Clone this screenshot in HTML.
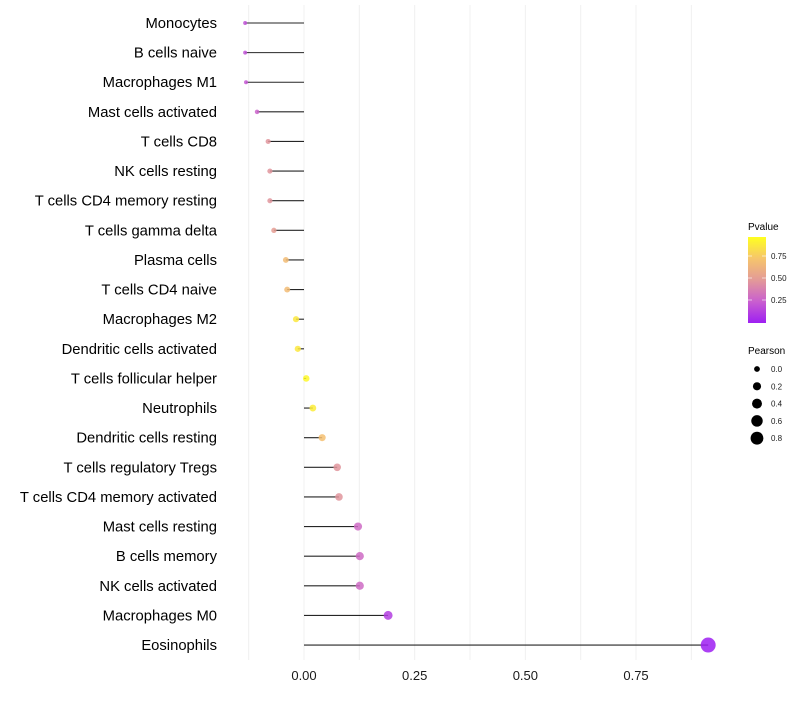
<!DOCTYPE html>
<html><head><meta charset="utf-8"><style>
body{margin:0;background:#fff;font-family:"Liberation Sans",sans-serif}
</style></head><body>
<svg id="chart" width="800" height="700" xmlns="http://www.w3.org/2000/svg" font-family="Liberation Sans, sans-serif">
<defs><linearGradient id="pg" x1="0" y1="1" x2="0" y2="0">
<stop offset="0" stop-color="#9e1ff2"/><stop offset="0.25" stop-color="#c95fcf"/><stop offset="0.5" stop-color="#e39a98"/><stop offset="0.75" stop-color="#f6c56c"/><stop offset="1" stop-color="#ffff20"/></linearGradient></defs>
<g id="grid"></g>
<g id="marks"></g>
<g id="ylabels"></g>
<g id="xlabels"></g>
<g>
<text x="748" y="230" font-size="10">Pvalue</text>
<rect x="748" y="237" width="18" height="86" fill="url(#pg)"/>
<g id="cbticks"></g>
</g>
<g id="sizeleg">
<text x="748" y="354" font-size="10">Pearson</text>
</g>
</svg>
<script>
const categories=["Monocytes","B cells naive","Macrophages M1","Mast cells activated","T cells CD8","NK cells resting","T cells CD4 memory resting","T cells gamma delta","Plasma cells","T cells CD4 naive","Macrophages M2","Dendritic cells activated","T cells follicular helper","Neutrophils","Dendritic cells resting","T cells regulatory  Tregs ","T cells CD4 memory activated","Mast cells resting","B cells memory","NK cells activated","Macrophages M0","Eosinophils"];
const pearson=[-0.133,-0.133,-0.131,-0.106,-0.081,-0.077,-0.077,-0.068,-0.041,-0.038,-0.018,-0.014,0.005,0.02,0.041,0.075,0.079,0.122,0.126,0.126,0.19,0.913];
const pvalue=[0.2,0.2,0.22,0.27,0.48,0.48,0.48,0.52,0.7,0.7,0.9,0.9,0.97,0.92,0.72,0.48,0.48,0.3,0.3,0.3,0.12,0.0];
const xTicks=[0,0.25,0.5,0.75];
const xTickLabels=["0.00","0.25","0.50","0.75"];
const sizeLegendValues=[0.0,0.2,0.4,0.6,0.8];
const cbTickValues=[0.25,0.5,0.75];
const NS="http://www.w3.org/2000/svg";
const X=v=>304+v*442.7;
const Y=i=>23+i*29.62;
const R=v=>Math.sqrt(Math.max(2.5,10.5+50*v));
const stops=[[0,[158,31,242]],[0.25,[201,95,207]],[0.5,[227,154,152]],[0.75,[246,197,108]],[1,[255,255,32]]];
function col(p){for(let i=1;i<stops.length;i++){if(p<=stops[i][0]){const a=stops[i-1],b=stops[i],t=(p-a[0])/(b[0]-a[0]);return 'rgb('+a[1].map((c,k)=>Math.round(c+(b[1][k]-c)*t)).join(',')+')';}}return 'rgb(255,255,32)';}
function el(t,a,p){const e=document.createElementNS(NS,t);for(const k in a)e.setAttribute(k,a[k]);p.appendChild(e);return e;}
const grid=document.getElementById('grid');
for(let g=-0.125;g<=0.9;g+=0.125){const l=el('line',{x1:X(g),x2:X(g),y1:5,y2:660,stroke:'#f0f0f0','stroke-width':1},grid);

}
const marks=document.getElementById('marks'),yl=document.getElementById('ylabels');
categories.forEach((c,i)=>{
const y=Y(i);
const seg=el('line',{x1:X(0),x2:X(pearson[i]),y1:y,y2:y,stroke:'#000','stroke-width':1.1,'stroke-opacity':0.85},marks);


const pt=el('circle',{cx:X(pearson[i]),cy:y,r:R(pearson[i]),fill:col(pvalue[i]),'fill-opacity':0.85},marks);


const t=el('text',{x:217,y:y+5,'text-anchor':'end','font-size':14.8,fill:'#000'},yl);t.textContent=c;


});
const xl=document.getElementById('xlabels');
xTicks.forEach((v,i)=>{const t=el('text',{x:X(v),y:680,'text-anchor':'middle','font-size':13,fill:'#1a1a1a'},xl);t.textContent=xTickLabels[i];

});
const cb=document.getElementById('cbticks');
cbTickValues.forEach(v=>{const y=322-v*88;
el('line',{x1:748,x2:752,y1:y,y2:y,stroke:'#fff','stroke-opacity':0.6},cb);
el('line',{x1:762,x2:766,y1:y,y2:y,stroke:'#fff','stroke-opacity':0.6},cb);
const t=el('text',{x:771,y:y+3,'font-size':8,fill:'#1a1a1a'},cb);t.textContent=v.toFixed(2);

});
const sl=document.getElementById('sizeleg');
sizeLegendValues.forEach((v,i)=>{const y=369+i*17.3;
const c=el('circle',{cx:757,cy:y,r:R(v)*0.9,fill:'#000'},sl);


const t=el('text',{x:771,y:y+3,'font-size':8,fill:'#1a1a1a'},sl);t.textContent=v.toFixed(1);

});
</script>
</body></html>
